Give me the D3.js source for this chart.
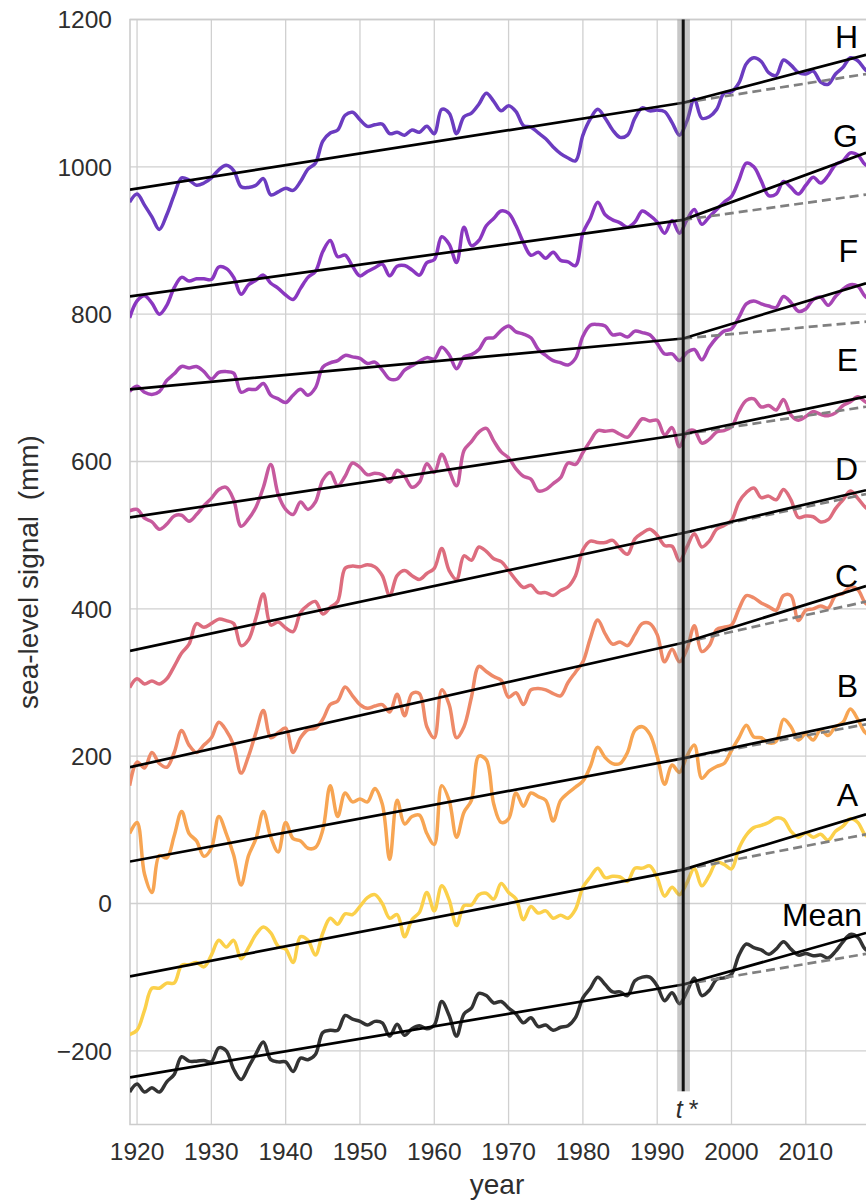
<!DOCTYPE html>
<html>
<head>
<meta charset="utf-8">
<script src="https://cdn.jsdelivr.net/npm/d3@7"></script>
<style>
  body { margin: 0; background: #fff; }
  svg { display: block; font-family: "Liberation Sans", Arial, Helvetica, sans-serif; }
</style>
</head>
<body>
<svg id="chart" width="866" height="1202"></svg>
<script>
// ---------------------------------------------------------------------------
// Data
// ---------------------------------------------------------------------------
const years = d3.range(1919, 2020);
const xTicks = [1920, 1930, 1940, 1950, 1960, 1970, 1980, 1990, 2000, 2010];
const yTicks = [-200, 0, 200, 400, 600, 800, 1000, 1200];

const names  = ['H', 'G', 'F', 'E', 'D', 'C', 'B', 'A', 'Mean'];
const colors = ['#6b3cc0', '#8a37c0', '#a645b5', '#c75a9d', '#dd6d7e', '#ee8a68', '#f7a553', '#fbd04a', '#333333'];

const valH = [952,963,948,932,915,935,962,985,982,975, 978,985,996,1002,995,973,972,975,984,962,
  966,971,968,980,997,1005,1035,1046,1050,1070, 1074,1064,1055,1057,1058,1045,1047,1043,1050,1047,
  1055,1045,1078,1073,1045,1068,1073,1085,1100,1089, 1076,1083,1075,1056,1054,1046,1038,1027,1018,1012,
  1008,1043,1065,1078,1066,1050,1040,1043,1066,1080, 1076,1077,1075,1060,1043,1062,1092,1066,1068,1078,
  1100,1102,1114,1140,1148,1143,1128,1124,1145,1138, 1128,1126,1130,1115,1112,1126,1135,1148,1144,1132,1125];
const valG = [795,818,825,815,800,812,836,850,845,848, 848,847,864,862,850,827,840,846,853,842,
  835,826,820,835,850,858,885,900,878,880, 865,852,858,863,868,852,865,866,860,853,
  870,874,905,895,870,918,893,900,920,930, 940,937,920,897,880,884,876,884,873,871,
  866,910,930,952,935,928,924,918,925,940, 934,925,910,927,910,928,942,922,932,942,
  952,960,982,1005,1000,981,961,963,980,972, 963,975,986,978,988,1003,1008,1019,1016,1003,1000];
const valF = [695,702,694,691,695,710,719,729,727,729, 722,712,721,722,720,694,698,698,706,690,
  685,680,690,698,690,700,728,734,737,744, 742,740,733,735,724,712,712,724,730,736,
  741,739,755,745,726,742,745,752,767,768, 778,784,776,773,768,752,744,737,734,731,
  740,770,785,786,784,772,773,769,777,775, 772,760,746,746,737,748,752,738,755,768,
  777,780,796,814,818,814,811,809,824,816, 804,807,820,823,812,824,834,840,838,824,818];
const valE = [533,535,523,518,508,515,526,527,519,528, 540,550,562,565,548,512,522,538,565,596,
  555,535,528,545,535,545,575,585,567,580, 598,592,582,584,582,572,588,580,565,572,
  597,585,610,588,567,615,627,640,645,628, 613,605,590,580,576,560,562,570,578,598,
  596,612,628,642,641,642,637,633,645,658, 655,656,636,646,620,640,642,625,630,640,
  642,647,668,683,685,674,676,670,684,663, 656,661,668,664,662,666,676,681,688,681,676];
const valD = [293,305,298,302,298,305,322,340,352,380, 375,380,386,384,380,350,358,388,420,378,
  382,374,369,395,405,410,393,402,410,455, 458,457,460,457,445,418,445,452,445,440,
  448,455,482,452,440,472,466,484,478,468, 464,452,439,429,432,422,422,418,425,430,
  445,480,492,490,490,493,482,474,495,503, 508,500,486,485,465,484,502,484,492,508,
  513,520,545,558,564,551,553,548,562,548, 524,526,525,518,521,536,548,560,550,538,532];
const valC = [160,192,184,205,190,185,205,235,215,205, 215,225,246,235,215,177,200,232,262,225,
  232,238,205,225,236,238,250,270,275,294, 282,270,265,268,270,260,284,255,285,285,
  240,225,290,270,225,240,280,322,315,308, 303,280,286,270,290,292,290,285,282,300,
  314,328,360,385,366,352,355,350,365,380, 380,365,328,345,328,345,377,342,350,372,
  375,378,400,418,415,408,403,398,418,418, 384,398,400,404,401,418,421,430,426,408,402];
const valB = [95,110,40,15,65,62,92,125,95,85, 64,75,118,95,66,25,65,88,125,90,
  70,110,88,85,75,76,100,160,118,150, 138,142,138,156,135,60,140,108,118,120,
  95,80,160,140,90,124,140,200,195,135, 110,115,150,132,150,145,140,112,140,150,
  158,166,186,212,198,190,190,205,235,240, 230,200,162,188,178,200,215,170,180,186,
  190,208,225,242,226,225,218,220,250,240, 222,230,222,236,228,240,246,264,250,232,226];
const valA = [-178,-172,-145,-115,-115,-108,-108,-84,-83,-80, -86,-70,-50,-59,-50,-75,-60,-42,-32,-40,
  -58,-62,-80,-45,-50,-70,-40,-20,-28,-14, -15,-4,8,12,0,-20,-15,-45,-22,-12,
  15,-10,24,5,-30,-3,-2,12,14,6, 27,15,6,-22,-4,-13,-10,-20,-16,-20,
  -8,22,36,48,35,37,36,30,48,48, 51,35,10,22,12,28,48,24,38,56,
  53,47,75,93,103,106,110,116,114,98, 90,96,90,94,86,98,105,115,110,93,88];
const valMean = [-256,-245,-256,-250,-256,-242,-232,-208,-214,-214, -213,-215,-196,-200,-225,-239,-222,-204,-188,-212,
  -215,-215,-228,-210,-212,-205,-175,-172,-172,-152, -157,-160,-165,-160,-162,-180,-164,-179,-170,-166,
  -170,-165,-133,-152,-180,-150,-142,-122,-125,-135, -133,-142,-150,-162,-155,-167,-165,-172,-168,-166,
  -155,-128,-115,-100,-110,-120,-120,-125,-105,-100, -100,-112,-132,-121,-136,-120,-101,-125,-118,-103,
  -101,-96,-70,-55,-60,-63,-69,-62,-52,-62, -70,-68,-71,-70,-74,-65,-52,-42,-46,-62,-66];
const seriesValues = [valH, valG, valF, valE, valD, valC, valB, valA, valMean];

// piecewise trend: value at start, at the break t*, and at the right edge
const tStar = 1993.5;
const tStarBand = [1992.7, 1994.4];
const trendYears = [1919.05, tStar, 2018.1];
const trendStart = [969, 824, 698, 524, 343, 185, 57, -99, -236];
const trendBreak = [1087, 928, 767, 637, 503, 354, 197, 46, -110];
const trendEnd   = [1152, 1019, 842, 688, 561, 431, 250, 121, -40];

// label anchors (value of each label baseline)
const labelY = [1161, 1027, 871, 723, 575, 430, 280, 132, -31];

// ---------------------------------------------------------------------------
// Layout
// ---------------------------------------------------------------------------
const svg = d3.select('#chart');
const plot = {left: 130, right: 866, top: 19.5, bottom: 1124.5};

const x = d3.scaleLinear().domain([1919.05, 2018.1]).range([plot.left, plot.right]);
const y = d3.scaleLinear().domain([-300, 1200]).range([plot.bottom, plot.top]);

svg.append('defs').append('clipPath').attr('id', 'clip')
  .append('rect')
  .attr('x', plot.left).attr('y', plot.top)
  .attr('width', plot.right - plot.left).attr('height', plot.bottom - plot.top);

// grid
const grid = svg.append('g').attr('stroke', '#d0d0d0').attr('stroke-width', 1.3);
grid.selectAll('.gx').data(xTicks).enter().append('line')
  .attr('x1', d => x(d)).attr('x2', d => x(d))
  .attr('y1', plot.top).attr('y2', plot.bottom);
grid.selectAll('.gy').data(yTicks).enter().append('line')
  .attr('x1', plot.left).attr('x2', plot.right)
  .attr('y1', d => y(d)).attr('y2', d => y(d));

// frame (left, top, bottom)
svg.append('path')
  .attr('d', `M${plot.right},${plot.top}H${plot.left}V${plot.bottom}H${plot.right}`)
  .attr('fill', 'none').attr('stroke', '#cccccc').attr('stroke-width', 1.6);

// tick labels
svg.append('g').selectAll('text').data(xTicks).enter().append('text')
  .attr('x', d => x(d)).attr('y', 1160)
  .attr('text-anchor', 'middle').attr('font-size', 24.5).attr('fill', '#2e2e2e')
  .text(d => d);
svg.append('g').selectAll('text').data(yTicks).enter().append('text')
  .attr('x', 112).attr('y', d => y(d)).attr('dy', '0.36em')
  .attr('text-anchor', 'end').attr('font-size', 24.5).attr('fill', '#2e2e2e')
  .text(d => d < 0 ? '\u2212' + Math.abs(d) : d);

svg.append('text')
  .attr('x', 497).attr('y', 1194)
  .attr('text-anchor', 'middle').attr('font-size', 28).attr('fill', '#2e2e2e')
  .text('year');
svg.append('text')
  .attr('transform', 'translate(38,572) rotate(-90)')
  .attr('text-anchor', 'middle').attr('font-size', 28).attr('fill', '#2e2e2e')
  .attr('xml:space', 'preserve')
  .text('sea-level signal  (mm)');

// ---------------------------------------------------------------------------
// Series and trends
// ---------------------------------------------------------------------------
const g = svg.append('g').attr('clip-path', 'url(#clip)');

const line = d3.line()
  .x((d, i) => x(years[i]))
  .y(d => y(d))
  .curve(d3.curveCatmullRom.alpha(0.5));

g.selectAll('.series').data(seriesValues).enter().append('path')
  .attr('class', 'series')
  .attr('d', d => line(d))
  .attr('fill', 'none')
  .attr('stroke', (d, i) => colors[i])
  .attr('stroke-width', 3.5)
  .attr('stroke-linejoin', 'round');

// dashed continuation of the pre-break trend
g.selectAll('.dash').data(names).enter().append('line')
  .attr('class', 'dash')
  .attr('x1', x(tStar)).attr('y1', (d, i) => y(trendBreak[i]))
  .attr('x2', x(trendYears[2]))
  .attr('y2', (d, i) => {
    const slope = (trendBreak[i] - trendStart[i]) / (tStar - trendYears[0]);
    return y(trendBreak[i] + slope * (trendYears[2] - tStar));
  })
  .attr('stroke', '#808080').attr('stroke-width', 2.7)
  .attr('stroke-dasharray', '9,5');

// black piecewise trend
const trendLine = d3.line().x(d => x(d[0])).y(d => y(d[1]));
g.selectAll('.trend').data(names).enter().append('path')
  .attr('class', 'trend')
  .attr('d', (d, i) => trendLine([
    [trendYears[0], trendStart[i]],
    [trendYears[1], trendBreak[i]],
    [trendYears[2], trendEnd[i]]
  ]))
  .attr('fill', 'none').attr('stroke', '#000').attr('stroke-width', 2.7);

// t* band and line
svg.append('rect')
  .attr('x', x(tStarBand[0])).attr('width', x(tStarBand[1]) - x(tStarBand[0]))
  .attr('y', y(1200)).attr('height', y(-255) - y(1200))
  .attr('fill', '#7a7a7a').attr('opacity', 0.42);
svg.append('line')
  .attr('x1', x(tStar)).attr('x2', x(tStar))
  .attr('y1', y(1200)).attr('y2', y(-255))
  .attr('stroke', '#111').attr('stroke-width', 3);

const tLabel = svg.append('text')
  .attr('x', x(tStar) + 4).attr('y', 1118)
  .attr('text-anchor', 'middle').attr('font-size', 25).attr('fill', '#2e2e2e');
tLabel.append('tspan').attr('font-style', 'italic').text('t');
tLabel.append('tspan').attr('dx', 6).text('*');

// series labels
svg.append('g').selectAll('text').data(names).enter().append('text')
  .attr('x', (d, i) => i === names.length - 1 ? 862 : 858)
  .attr('y', (d, i) => y(labelY[i]))
  .attr('text-anchor', 'end').attr('font-size', 32).attr('fill', '#000')
  .text(d => d);
</script>
</body>
</html>
